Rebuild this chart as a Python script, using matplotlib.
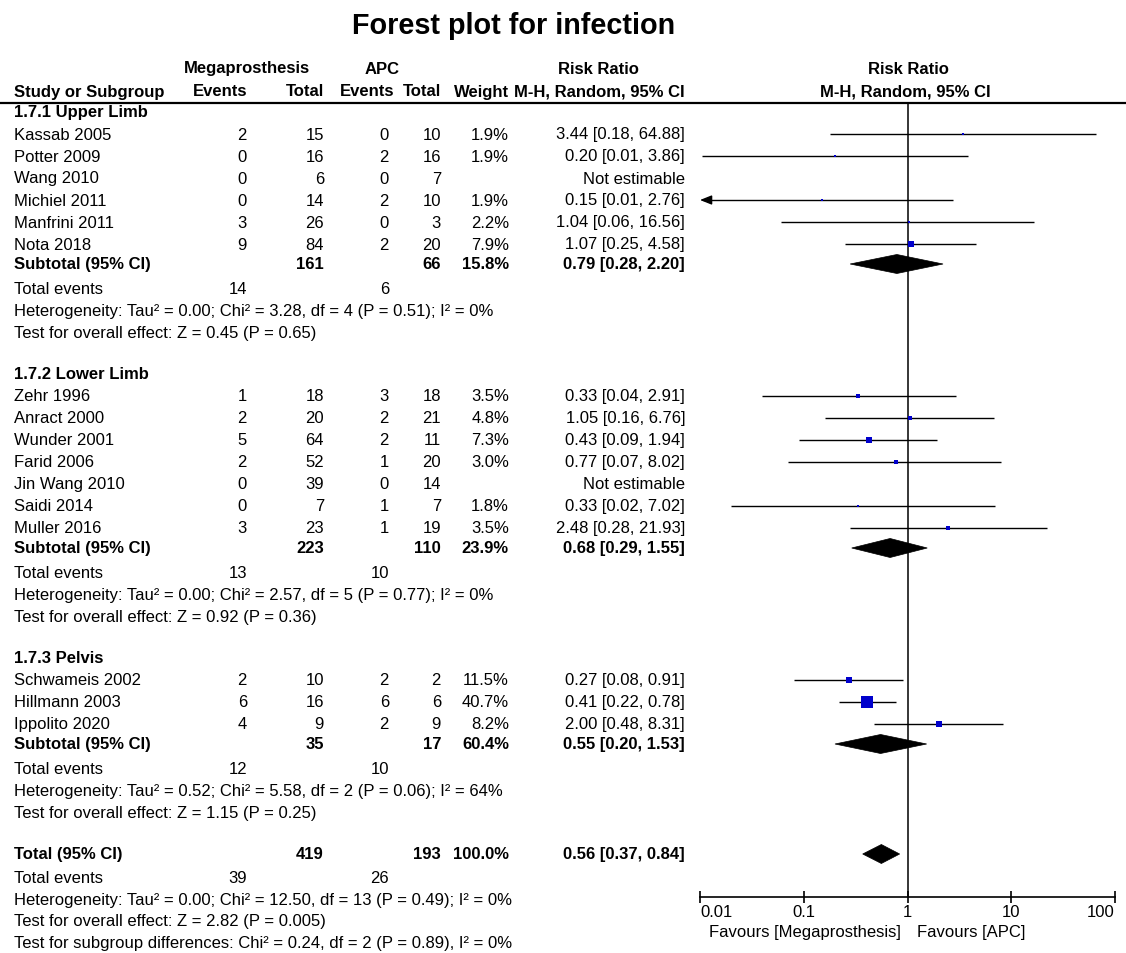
import matplotlib
matplotlib.use("Agg")
import matplotlib.pyplot as plt
import numpy as np
from matplotlib.patches import Polygon
from matplotlib.ticker import NullLocator

plt.rcParams['font.family'] = ['Liberation Sans', 'DejaVu Sans']

# ---------------- data ----------------
group_names = ["1.7.1 Upper Limb", "1.7.2 Lower Limb", "1.7.3 Pelvis"]

upper_studies = ["Kassab 2005", "Potter 2009", "Wang 2010", "Michiel 2011", "Manfrini 2011", "Nota 2018"]
upper_mega_events = [2, 0, 0, 0, 3, 9]
upper_mega_total = [15, 16, 6, 14, 26, 84]
upper_apc_events = [0, 2, 0, 2, 0, 2]
upper_apc_total = [10, 16, 7, 10, 3, 20]
upper_weight = [1.9, 1.9, None, 1.9, 2.2, 7.9]
upper_rr = [3.44, 0.20, None, 0.15, 1.04, 1.07]
upper_lo = [0.18, 0.0104, None, 0.0082, 0.06, 0.25]
upper_hi = [64.88, 3.86, None, 2.76, 16.56, 4.58]

lower_studies = ["Zehr 1996", "Anract 2000", "Wunder 2001", "Farid 2006", "Jin Wang 2010", "Saidi 2014", "Muller 2016"]
lower_mega_events = [1, 2, 5, 2, 0, 0, 3]
lower_mega_total = [18, 20, 64, 52, 39, 7, 23]
lower_apc_events = [3, 2, 2, 1, 0, 1, 1]
lower_apc_total = [18, 21, 11, 20, 14, 7, 19]
lower_weight = [3.5, 4.8, 7.3, 3.0, None, 1.8, 3.5]
lower_rr = [0.33, 1.05, 0.43, 0.77, None, 0.33, 2.48]
lower_lo = [0.04, 0.16, 0.09, 0.07, None, 0.02, 0.28]
lower_hi = [2.91, 6.76, 1.94, 8.02, None, 7.02, 21.93]

pelvis_studies = ["Schwameis 2002", "Hillmann 2003", "Ippolito 2020"]
pelvis_mega_events = [2, 6, 4]
pelvis_mega_total = [10, 16, 9]
pelvis_apc_events = [2, 6, 2]
pelvis_apc_total = [2, 6, 9]
pelvis_weight = [11.5, 40.7, 8.2]
pelvis_rr = [0.27, 0.41, 2.00]
pelvis_lo = [0.08, 0.22, 0.48]
pelvis_hi = [0.91, 0.78, 8.31]

sub_mega_total = [161, 223, 35]
sub_apc_total = [66, 110, 17]
sub_weight = [15.8, 23.9, 60.4]
sub_rr = [0.79, 0.68, 0.55]
sub_lo = [0.28, 0.29, 0.20]
sub_hi = [2.20, 1.55, 1.53]
sub_mega_events = [14, 13, 12]
sub_apc_events = [6, 10, 10]
sub_tau2 = [0.00, 0.00, 0.52]
sub_chi2 = [3.28, 2.57, 5.58]
sub_df = [4, 5, 2]
sub_p_het = ["0.51", "0.77", "0.06"]
sub_i2 = [0, 0, 64]
sub_z = [0.45, 0.92, 1.15]
sub_p_z = ["0.65", "0.36", "0.25"]

total_mega_total = 419
total_apc_total = 193
total_weight = 100.0
total_rr = 0.56
total_lo = 0.37
total_hi = 0.84
total_mega_events = 39
total_apc_events = 26
total_tau2 = 0.00
total_chi2 = 12.50
total_df = 13
total_p_het = "0.49"
total_i2 = 0
total_z = 2.82
total_p_z = "0.005"
subgroup_chi2 = 0.24
subgroup_df = 2
subgroup_p = "0.89"
subgroup_i2 = 0

tick_values = [0.01, 0.1, 1, 10, 100]
tick_labels = ["0.01", "0.1", "1", "10", "100"]

groups = [
    dict(studies=upper_studies, me=upper_mega_events, mt=upper_mega_total, ae=upper_apc_events,
         at=upper_apc_total, w=upper_weight, rr=upper_rr, lo=upper_lo, hi=upper_hi),
    dict(studies=lower_studies, me=lower_mega_events, mt=lower_mega_total, ae=lower_apc_events,
         at=lower_apc_total, w=lower_weight, rr=lower_rr, lo=lower_lo, hi=lower_hi),
    dict(studies=pelvis_studies, me=pelvis_mega_events, mt=pelvis_mega_total, ae=pelvis_apc_events,
         at=pelvis_apc_total, w=pelvis_weight, rr=pelvis_rr, lo=pelvis_lo, hi=pelvis_hi),
]

# ---------------- layout ----------------
W, H = 1126, 954
fig = plt.figure(figsize=(W / 100, H / 100), dpi=100)
tab = fig.add_axes([0, 0, 1, 1])
tab.set_xlim(0, W)
tab.set_ylim(H, 0)
tab.axis('off')

FS = 12
BLUE = '#0000CC'

X_STUDY, X_ME, X_MT, X_AE, X_AT, X_W, X_RR = 14, 247, 324, 389, 441, 509, 685
AX_L, AX_R, AX_T, AX_B = 700, 1115, 104, 898

fa = fig.add_axes([AX_L / W, 1 - AX_B / H, (AX_R - AX_L) / W, (AX_B - AX_T) / H])
fa.set_xscale('log')
fa.set_xlim(0.01, 100)
fa.set_ylim(AX_B, AX_T)
fa.patch.set_alpha(0)
for s in ['left', 'right', 'top']:
    fa.spines[s].set_visible(False)
fa.spines['bottom'].set_linewidth(1.2)
fa.set_yticks([])
fa.set_xticks(tick_values)
fa.set_xticklabels(tick_labels)
fa.xaxis.set_minor_locator(NullLocator())
fa.tick_params(axis='x', direction='inout', length=8, width=1.2, pad=1, labelsize=FS)
lbls = fa.get_xticklabels()
lbls[0].set_ha('left')
lbls[-1].set_ha('right')
fa.axvline(1, color='black', lw=1.1, zorder=1)


def txt(x, y, s, ha='left', bold=False, size=FS):
    tab.text(x, y, s, ha=ha, va='center', fontsize=size,
             fontweight='bold' if bold else 'normal', color='black')


def diamond(rr, lo, hi, y, hh=9.5):
    poly = Polygon([(lo, y), (rr, y - hh), (hi, y), (rr, y + hh)], closed=True,
                   facecolor='black', edgecolor='black', lw=0.5, zorder=3)
    fa.add_patch(poly)


# title
tab.text(514, 26, "Forest plot for infection", ha='center', va='center',
         fontsize=20.7, fontweight='bold')

# headers
txt(247, 69, "Megaprosthesis", ha='center', bold=True)
txt(382, 69, "APC", ha='center', bold=True)
txt(598, 69, "Risk Ratio", ha='center', bold=True)
txt(908, 69, "Risk Ratio", ha='center', bold=True)
txt(X_STUDY, 92, "Study or Subgroup", bold=True)
txt(X_ME, 92, "Events", ha='right', bold=True)
txt(X_MT, 92, "Total", ha='right', bold=True)
txt(X_AE + 5, 92, "Events", ha='right', bold=True)
txt(X_AT, 92, "Total", ha='right', bold=True)
txt(X_W, 92, "Weight", ha='right', bold=True)
txt(X_RR, 92, "M-H, Random, 95% CI", ha='right', bold=True)
txt(905, 92, "M-H, Random, 95% CI", ha='center', bold=True)
tab.plot([0, W], [AX_T, AX_T], color='black', lw=1.6)

MAXW = max(pelvis_weight)


def het_text(tau2, chi2, df, p, i2):
    return (f"Heterogeneity: Tau\u00b2 = {tau2:.2f}; Chi\u00b2 = {chi2:.2f}, df = {df} "
            f"(P = {p}); I\u00b2 = {i2}%")


y = 113
for gi, g in enumerate(groups):
    txt(X_STUDY, y, group_names[gi], bold=True)
    y += 22
    for i, name in enumerate(g['studies']):
        txt(X_STUDY, y, name)
        txt(X_ME, y, str(g['me'][i]), ha='right')
        txt(X_MT, y, str(g['mt'][i]), ha='right')
        txt(X_AE, y, str(g['ae'][i]), ha='right')
        txt(X_AT, y, str(g['at'][i]), ha='right')
        if g['rr'][i] is None:
            txt(X_RR, y, "Not estimable", ha='right')
        else:
            w = g['w'][i]
            txt(X_W, y, f"{w:.1f}%", ha='right')
            rr, lo, hi = g['rr'][i], g['lo'][i], g['hi'][i]
            txt(X_RR, y, f"{rr:.2f} [{lo:.2f}, {hi:.2f}]", ha='right')
            if lo < 0.01:
                fa.plot([0.0108, hi], [y, y], color='black', lw=1.0, zorder=2, solid_capstyle='butt')
                fa.annotate('', xy=(0.01, y), xytext=(0.0125, y),
                            arrowprops=dict(arrowstyle='-|>,head_length=0.7,head_width=0.28',
                                            color='black', lw=1.0, shrinkA=0, shrinkB=0),
                            annotation_clip=False)
            else:
                fa.plot([lo, hi], [y, y], color='black', lw=1.0, zorder=2, solid_capstyle='butt')
            side_px = max(2.4, 12.0 * np.sqrt(w / MAXW))
            fa.plot([rr], [y], marker='s', ms=side_px * 0.72, color=BLUE, mec=BLUE,
                    mew=0, linestyle='none', zorder=4)
        y += 22
    y -= 2
    txt(X_STUDY, y, "Subtotal (95% CI)", bold=True)
    txt(X_MT, y, str(sub_mega_total[gi]), ha='right', bold=True)
    txt(X_AT, y, str(sub_apc_total[gi]), ha='right', bold=True)
    txt(X_W, y, f"{sub_weight[gi]:.1f}%", ha='right', bold=True)
    txt(X_RR, y, f"{sub_rr[gi]:.2f} [{sub_lo[gi]:.2f}, {sub_hi[gi]:.2f}]", ha='right', bold=True)
    diamond(sub_rr[gi], sub_lo[gi], sub_hi[gi], y)
    y += 25
    txt(X_STUDY, y, "Total events")
    txt(X_ME, y, str(sub_mega_events[gi]), ha='right')
    txt(X_AE, y, str(sub_apc_events[gi]), ha='right')
    y += 22
    txt(X_STUDY, y, het_text(sub_tau2[gi], sub_chi2[gi], sub_df[gi], sub_p_het[gi], sub_i2[gi]))
    y += 22
    txt(X_STUDY, y, f"Test for overall effect: Z = {sub_z[gi]:.2f} (P = {sub_p_z[gi]})")
    y += 41

# overall
txt(X_STUDY, y, "Total (95% CI)", bold=True)
txt(X_MT, y, str(total_mega_total), ha='right', bold=True)
txt(X_AT, y, str(total_apc_total), ha='right', bold=True)
txt(X_W, y, f"{total_weight:.1f}%", ha='right', bold=True)
txt(X_RR, y, f"{total_rr:.2f} [{total_lo:.2f}, {total_hi:.2f}]", ha='right', bold=True)
diamond(total_rr, total_lo, total_hi, y)
y += 24
txt(X_STUDY, y, "Total events")
txt(X_ME, y, str(total_mega_events), ha='right')
txt(X_AE, y, str(total_apc_events), ha='right')
y += 22
txt(X_STUDY, y, het_text(total_tau2, total_chi2, total_df, total_p_het, total_i2))
y += 21
txt(X_STUDY, y, f"Test for overall effect: Z = {total_z:.2f} (P = {total_p_z})")
y += 22
txt(X_STUDY, y, f"Test for subgroup differences: Chi\u00b2 = {subgroup_chi2:.2f}, df = {subgroup_df} "
                f"(P = {subgroup_p}), I\u00b2 = {subgroup_i2}%")

# favours labels
txt(901, 933, "Favours [Megaprosthesis]", ha='right')
txt(917, 933, "Favours [APC]", ha='left')

fig.savefig("out.png", dpi=100, facecolor='white')
